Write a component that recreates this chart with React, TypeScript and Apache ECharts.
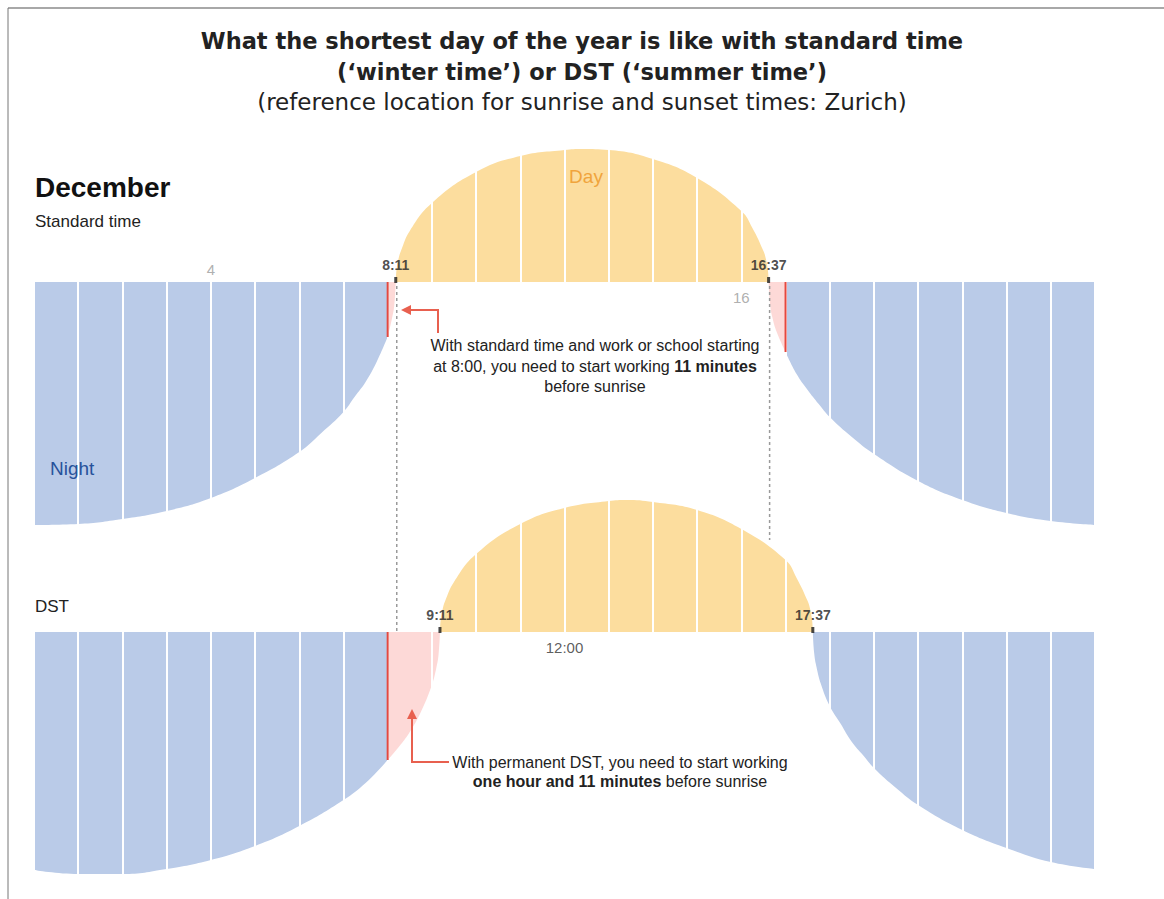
import React, { useEffect, useRef } from 'react';
import * as echarts from 'echarts';

// ---------- data (hours of day, sun height above (+) / below (-) horizon in drawn units) ----------
const stdNightMorning = [[0, -243], [1, -242], [2, -237], [3, -229], [4, -216], [5, -196], [6, -170], [6.5, -151], [7, -130], [7.25, -115], [7.5, -100], [7.75, -80], [8, -55]];
const stdPinkMorning = [[8, -55], [8.1, -36], [8.15, -23], [8.183, 0]];
const stdDay = [[8.183, 0], [8.2, 12], [8.25, 24], [8.3, 31], [8.5, 51], [9, 79], [10, 110], [11, 126], [12, 132], [12.4, 133], [13, 132], [14, 123], [15, 104], [16, 71], [16.25, 54], [16.5, 31], [16.55, 24], [16.6, 12], [16.617, 0]];
const stdPinkEvening = [[16.617, 0], [16.65, -22], [16.7, -35], [16.8, -50], [17, -70]];
const stdNightEvening = [[17, -70], [17.25, -92], [17.5, -108], [17.75, -122], [18, -135], [18.5, -155], [19, -172], [20, -199], [21, -218], [22, -231], [23, -239], [24, -243]];

const dstNightMorning = [[0, -238], [1, -242], [2, -242], [3, -237], [4, -228], [5, -214], [6, -194], [7, -168], [7.5, -151], [8, -128]];
const dstPinkMorning = [[8, -128], [8.25, -115], [8.5, -100], [8.75, -80], [9, -53], [9.1, -36], [9.15, -23], [9.183, 0]];
const dstDay = [[9.183, 0], [9.2, 12], [9.25, 24], [9.3, 31], [9.5, 50], [10, 78], [11, 108], [12, 124], [13, 131], [13.4, 132], [14, 130], [15, 122], [16, 103], [17, 72], [17.25, 54], [17.5, 31], [17.55, 24], [17.6, 12], [17.617, 0]];
const dstNightEvening = [[17.617, 0], [17.65, -22], [17.7, -35], [17.8, -52], [18, -74], [18.25, -92], [18.5, -110], [18.75, -123], [19, -136], [19.5, -156], [20, -173], [21, -198], [22, -216], [23, -230], [24, -237]];

// work start / end marks (hour, curve value at that hour)
const stdWorkMarks = [[8, -55], [17, -70]];
const dstWorkMarks = [[8, -128]];

// sunrise / sunset
const stdSunEvents = [{ hour: 8.183, label: '8:11' }, { hour: 16.617, label: '16:37' }];
const dstSunEvents = [{ hour: 9.183, label: '9:11' }, { hour: 17.617, label: '17:37' }];

// hour tick labels
const stdHourLabels = [{ hour: 4, text: '4', side: 'top' }, { hour: 16, text: '16', side: 'bottom' }];
const dstHourLabels = [{ hour: 12, text: '12:00', side: 'bottom' }];

// dashed guides from standard-time sunrise/sunset down to the DST panel (end value in DST panel)
const guideLines = [{ hour: 8.183, endValue: 0 }, { hour: 16.617, endValue: 92 }];

// ---------- styling ----------
const F = "'Liberation Sans', Arial, sans-serif";
const TF = "'DejaVu Sans', sans-serif";
const BLUE = '#bacbe8';
const YELLOW = '#fcdd9e';
const PINK = '#fdd9d7';
const RED = '#e5483f';
const ARROW = '#e8604f';

function areaSeries(data: number[][], color: string, g: number) {
  return {
    type: 'line',
    xAxisIndex: g,
    yAxisIndex: g,
    data,
    smooth: 0.45,
    showSymbol: false,
    symbol: 'none',
    silent: true,
    lineStyle: { width: 0, color },
    areaStyle: { color, opacity: 1 },
    z: 2,
  };
}

function workSeries(marks: number[][], g: number) {
  return marks.map(([h, v]) => ({
    type: 'line',
    xAxisIndex: g,
    yAxisIndex: g,
    data: [[h, 0], [h, v]],
    showSymbol: false,
    symbol: 'none',
    silent: true,
    lineStyle: { color: RED, width: 2 },
    z: 5,
  }));
}

function sunSeries(events: { hour: number; label: string }[], g: number) {
  return {
    type: 'scatter',
    xAxisIndex: g,
    yAxisIndex: g,
    silent: true,
    symbol: 'rect',
    symbolSize: [3, 6],
    symbolOffset: [0, -2],
    itemStyle: { color: '#1a1a1a' },
    z: 6,
    data: events.map((e) => ({ name: e.label, value: [e.hour, 0] })),
    label: {
      show: true,
      position: 'top',
      distance: 5,
      formatter: '{b}',
      fontFamily: F,
      fontWeight: 'bold',
      fontSize: 14,
      color: '#222',
    },
  };
}

function hourLabelSeries(labels: { hour: number; text: string; side: string }[], g: number, color: string) {
  return {
    type: 'scatter',
    xAxisIndex: g,
    yAxisIndex: g,
    silent: true,
    symbolSize: 0,
    z: 6,
    data: labels.map((l) => ({
      name: l.text,
      value: [l.hour, 0],
      label: { position: l.side, distance: l.side === 'top' ? 5 : 8 },
    })),
    label: { show: true, formatter: '{b}', fontFamily: F, fontSize: 15, color },
  };
}

function buildOption() {
  const grids = [
    { left: 34, width: 1061, top: 142, height: 390 },
    { left: 34, width: 1061, top: 492, height: 390 },
  ];
  return {
    animation: false,
    backgroundColor: '#ffffff',
    grid: grids,
    xAxis: [0, 1].map((i) => ({
      type: 'value',
      gridIndex: i,
      min: 0,
      max: 24,
      interval: 1,
      z: 3,
      axisLine: { show: false },
      axisTick: { show: false },
      axisLabel: { show: false },
      splitLine: { show: true, lineStyle: { color: '#ffffff', width: 2 } },
    })),
    yAxis: [0, 1].map((i) => ({
      type: 'value',
      gridIndex: i,
      min: -250,
      max: 140,
      show: false,
      splitLine: { show: false },
    })),
    series: [
      areaSeries(stdNightMorning, BLUE, 0),
      areaSeries(stdPinkMorning, PINK, 0),
      areaSeries(stdDay, YELLOW, 0),
      areaSeries(stdPinkEvening, PINK, 0),
      areaSeries(stdNightEvening, BLUE, 0),
      areaSeries(dstNightMorning, BLUE, 1),
      areaSeries(dstPinkMorning, PINK, 1),
      areaSeries(dstDay, YELLOW, 1),
      areaSeries(dstNightEvening, BLUE, 1),
      ...workSeries(stdWorkMarks, 0),
      ...workSeries(dstWorkMarks, 1),
      sunSeries(stdSunEvents, 0),
      sunSeries(dstSunEvents, 1),
      hourLabelSeries(stdHourLabels, 0, '#9a9a9a'),
      hourLabelSeries(dstHourLabels, 1, '#333333'),
    ],
  };
}

function txt(x: number, y: number, text: string, o: any = {}) {
  const size = o.fontSize || 16;
  const family = o.fontFamily || F;
  const fill = o.fill || '#222';
  return {
    type: 'text',
    z: 20,
    silent: true,
    style: {
      x,
      y,
      text,
      fill,
      fontSize: size,
      fontFamily: family,
      fontWeight: o.fontWeight || 'normal',
      align: o.align || 'left',
      textAlign: o.align || 'left',
      verticalAlign: 'middle',
      textVerticalAlign: 'middle',
      rich: {
        b: { fontWeight: 'bold', fontSize: size, fontFamily: family, fill },
        n: { fontWeight: 'normal', fontSize: size, fontFamily: family, fill },
      },
    },
  };
}

export default function App() {
  const ref = useRef<HTMLDivElement>(null);
  useEffect(() => {
    if (!ref.current) return;
    const chart = echarts.init(ref.current, null, { renderer: 'svg' });
    chart.setOption(buildOption() as any);
    const px = (g: number, x: number, y: number) =>
      chart.convertToPixel({ gridIndex: g } as any, [x, y]) as unknown as number[];

    const g: any[] = [];
    // frame
    g.push({ type: 'line', z: 20, silent: true, shape: { x1: 8, y1: 8, x2: 1164, y2: 8 }, style: { stroke: '#a8a8a8', lineWidth: 2 } });
    g.push({ type: 'line', z: 20, silent: true, shape: { x1: 8, y1: 8, x2: 8, y2: 899 }, style: { stroke: '#777', lineWidth: 1 } });

    // titles
    g.push(txt(582, 41, 'What the shortest day of the year is like with standard time', { fontFamily: TF, fontWeight: 'bold', fontSize: 22.5, align: 'center', fill: '#222' }));
    g.push(txt(582, 72, '(‘winter time’) or DST (‘summer time’)', { fontFamily: TF, fontWeight: 'bold', fontSize: 22.5, align: 'center', fill: '#222' }));
    g.push(txt(582, 102, '(reference location for sunrise and sunset times: Zurich)', { fontFamily: TF, fontSize: 23, align: 'center', fill: '#222' }));

    g.push(txt(35, 187, 'December', { fontWeight: 'bold', fontSize: 28, fill: '#111' }));
    g.push(txt(35, 221, 'Standard time', { fontSize: 17 }));
    g.push(txt(35, 606, 'DST', { fontSize: 17 }));
    g.push(txt(586, 176, 'Day', { fontSize: 19, align: 'center', fill: '#f0a43c' }));
    g.push(txt(50, 468, 'Night', { fontSize: 19, fill: '#27529b' }));

    // dashed guides
    guideLines.forEach((gl) => {
      const a = px(0, gl.hour, 0);
      const b = px(1, gl.hour, gl.endValue);
      g.push({
        type: 'line', z: 20, silent: true,
        shape: { x1: a[0] + 1, y1: a[1] + 4, x2: b[0] + 1, y2: b[1] },
        style: { stroke: '#9a9a9a', lineWidth: 1.5, lineDash: [3, 3] },
      });
    });

    // annotation 1 (standard time)
    g.push({ type: 'polyline', z: 20, silent: true, shape: { points: [[438, 333], [438, 310], [409, 310]] }, style: { stroke: ARROW, lineWidth: 2, fill: null } });
    g.push({ type: 'polygon', z: 20, silent: true, shape: { points: [[401, 310], [411, 305], [411, 315]] }, style: { fill: ARROW } });
    g.push(txt(595, 345, 'With standard time and work or school starting', { align: 'center' }));
    g.push(txt(595, 366, '{n|at 8:00, you need to start working }{b|11 minutes}', { align: 'center' }));
    g.push(txt(595, 386, 'before sunrise', { align: 'center' }));

    // annotation 2 (DST)
    g.push({ type: 'polyline', z: 20, silent: true, shape: { points: [[449, 762], [412, 762], [412, 718]] }, style: { stroke: ARROW, lineWidth: 2, fill: null } });
    g.push({ type: 'polygon', z: 20, silent: true, shape: { points: [[412, 709], [407, 719], [417, 719]] }, style: { fill: ARROW } });
    g.push(txt(620, 762, 'With permanent DST, you need to start working', { align: 'center' }));
    g.push(txt(620, 781, '{b|one hour and 11 minutes}{n| before sunrise}', { align: 'center' }));

    chart.setOption({ graphic: g });
    return () => chart.dispose();
  }, []);
  return <div ref={ref} style={{ position: 'absolute', left: 0, top: 0, width: 1164, height: 899 }} />;
}
